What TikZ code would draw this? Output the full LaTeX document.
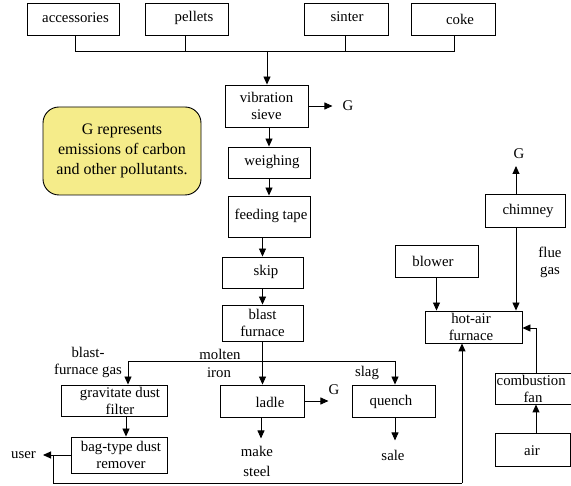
\documentclass[tikz,border=0pt]{standalone}
\usepackage{fontspec}
\setmainfont{Liberation Serif}
\usetikzlibrary{arrows.meta}
\definecolor{noteyellow}{RGB}{245,236,138}
\begin{document}
\begin{tikzpicture}[x=1pt,y=-1pt,
  every node/.style={font=\fontsize{14.8}{17}\selectfont, inner sep=0pt, align=center},
  box/.style={draw, line width=0.9pt, inner sep=0pt},
  lbl/.style={},
  arr/.style={line width=0.9pt, -{Triangle[length=8pt,width=7pt]}},
  ln/.style={line width=0.9pt}]
\clip (0,0) rectangle (571,486);
% top boxes
\node[box, minimum width=92, minimum height=32] (acc) at (73,19) {};
\node[lbl] at (75.5,18) {accessories};
\node[box, minimum width=83, minimum height=32] (pel) at (186.5,19) {};
\node[lbl] at (194,18) {pellets};
\node[box, minimum width=84, minimum height=32] (sin) at (346,19) {};
\node[lbl] at (347,17) {sinter};
\node[box, minimum width=84, minimum height=32] (cok) at (453,19) {};
\node[lbl] at (460,19) {coke};
% bus
\coordinate (b1) at (75,51);
\coordinate (b2) at (185,51);
\coordinate (b3) at (345,51);
\coordinate (b4) at (454,51);
\coordinate (bv) at (267,51);
\draw[ln] (b1 |- acc.south) -- (b1) -- (b4) -- (b4 |- cok.south);
\draw[ln] (b2 |- pel.south) -- (b2);
\draw[ln] (b3 |- sin.south) -- (b3);
% main column
\node[box, minimum width=83, minimum height=42] (vib) at (266.5,106) {vibration\\sieve};
\draw[arr] (bv) -- (bv |- vib.north);
\draw[arr] (vib.east) -- ++(24,0);
\node (g1) at (348,106) {G};
\node[box, minimum width=82, minimum height=31] (wei) at (269,162.5) {};
\node[lbl] at (272,162) {weighing};
\node[box, minimum width=82, minimum height=41] (fee) at (269,216.5) {};
\node[lbl] at (271,216) {feeding tape};
\node[box, minimum width=81, minimum height=31] (skp) at (262.5,272.5) {};
\node[lbl] at (266,272) {skip};
\node[box, minimum width=81, minimum height=36] (bf) at (262.5,323) {blast\\furnace};
\draw[arr] (vib.south -| wei.north) -- (wei.north);
\draw[arr] (wei.south) -- (fee.north);
\draw[arr] (fee.south -| skp.north) -- (skp.north);
\draw[arr] (skp.south) -- (bf.north);
% note
\node[draw, line width=0.9pt, fill=noteyellow, rounded corners=16pt,
      minimum width=158, minimum height=88,
      font=\fontsize{16}{20}\selectfont] (note) at (122,151)
      {G represents\\emissions of carbon\\and other pollutants.};
% lower branch
\node[box, minimum width=106, minimum height=31] (grav) at (114,400.5) {};
\node[lbl] at (120,401) {gravitate dust\\filter};
\node[box, minimum width=96, minimum height=36] (bag) at (119,455) {};
\node[lbl] at (121,455) {bag-type dust\\remover};
\node[box, minimum width=84, minimum height=32] (ladle) at (262,401) {};
\node[lbl] at (270,402) {ladle};
\node[box, minimum width=83, minimum height=32] (quench) at (393.5,401) {};
\node[lbl] at (391,402) {quench};
\coordinate (jl) at (128,361);
\coordinate (jr) at (395,361);
\draw[arr] (bf.south) -- (bf.south |- ladle.north);
\draw[arr] (jr) -- (jl) -- (jl |- grav.north);
\draw[arr] (jr) -- (jr |- quench.north);
\draw[arr] (grav.south -| 126,0) -- (bag.north -| 126,0);
\node (molten) at (220,354) {molten};
\node (iron) at (219,373) {iron};
\node (bfg) at (88,362) {blast-\\furnace gas};
\node (slag) at (367,373) {slag};
\draw[arr] (ladle.east) -- ++(24,0);
\node (g2) at (334,390) {G};
\draw[arr] (ladle.south -| 261,0) -- ++(0,21);
\node[font=\fontsize{14.8}{20}\selectfont] (mk) at (257,461) {make\\steel};
\draw[arr] (quench.south -| jr) -- ++(0,23);
\node (sale) at (393,455) {sale};
% user and loop
\node (user) at (23.5,455) {user};
\coordinate (l1) at (53,483);
\coordinate (l2) at (462,483);
\draw[arr] (bag.west) -- (43,455);
\draw[ln] (bag.west -| l1) -- (l1) -- (l2);
% right side
\node[box, minimum width=80, minimum height=33] (chim) at (525,210.5) {};
\node[lbl] at (528,211) {chimney};
\node[box, minimum width=83, minimum height=32] (blow) at (436.5,261) {};
\node[lbl] at (433,261) {blower};
\node[box, minimum width=97, minimum height=32] (hot) at (473.5,327) {};
\node[lbl] at (471,327) {hot-air\\furnace};
\draw[arr] (l2) -- (l2 |- hot.south);
\node[box, minimum width=85, minimum height=31] (comb) at (537.5,388.5) {};
\node[lbl, anchor=west] at (496.5,380) {combustion};
\node[lbl] at (533,397) {fan};
\node[box, minimum width=75, minimum height=33] (air) at (532.5,449.5) {};
\node[lbl] at (532,451) {air};
\coordinate (cx) at (516,166);
\draw[arr] (cx |- chim.north) -- (cx);
\node (g3) at (519,154) {G};
\draw[arr] (cx |- chim.south) -- (cx |- hot.north);
\node (flue) at (550,262) {flue\\gas};
\draw[arr] (blow.south) -- (blow.south |- hot.north);
\coordinate (c1) at (536,328);
\draw[arr] (c1 |- comb.north) -- (c1) -- (c1 -| hot.east);
\draw[arr] (air.north -| c1) -- (comb.south -| c1);
\end{tikzpicture}
\end{document}
